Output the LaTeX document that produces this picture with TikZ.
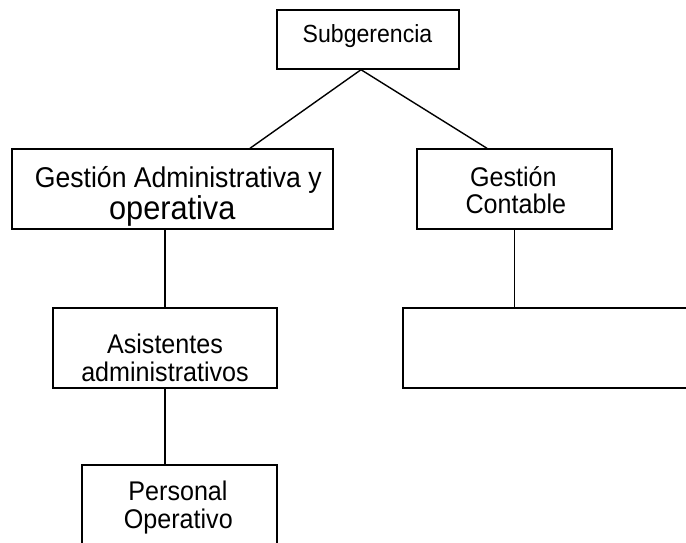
\documentclass[tikz,border=0pt]{standalone}
\usepackage{fontspec}
\setmainfont{Liberation Sans}
\newfontfamily\arialx[FakeStretch=0.93]{Liberation Sans}
\begin{document}
\begin{tikzpicture}[x=1pt,y=-1pt,
  box/.style={draw, line width=1.4pt, inner sep=0pt, rectangle},
  conn/.style={draw, line width=1.4pt},
  txt/.style={inner sep=0pt, anchor=base, font=\arialx\fontsize{27}{27}\selectfont},
  txtsmall/.style={txt, font=\arialx\fontsize{24.8}{24.8}\selectfont},
  txtmid/.style={txt, font=\arialx\fontsize{28.6}{28.6}\selectfont},
  txtbig/.style={txt, font=\arialx\fontsize{33}{33}\selectfont}]
\fill[white] (0,0) rectangle (686,542);
\useasboundingbox (0,0) rectangle (686,542);
% boxes
\node[box, minimum width=182pt, minimum height=59pt] (sub) at (368,39.5) {};
\node[box, minimum width=321pt, minimum height=80pt] (gadm) at (172.5,189) {};
\node[box, minimum width=195pt, minimum height=80pt] (gcont) at (514.5,189) {};
\node[box, minimum width=224pt, minimum height=80pt] (asis) at (165,348) {};
\node[box, minimum width=317pt, minimum height=80pt] (empty) at (561.5,348) {};
\node[box, minimum width=195pt, minimum height=115pt] (pers) at (179.5,522.5) {};
% texts
\node[txtsmall] (t1) at (367.5,42.5) {Subgerencia};
\node[txtmid] (t2) at (178.3,187) {Gestión Administrativa y};
\node[txtbig] (t3) at (172.3,219.5) {operativa};
\node[txt] (t4) at (513.3,186) {Gestión};
\node[txt] (t5) at (515.8,213.5) {Contable};
\node[txt] (t6) at (165,353) {Asistentes};
\node[txt] (t7) at (165,381.5) {administrativos};
\node[txt] (t8) at (178,500) {Personal};
\node[txt] (t9) at (178.3,528) {Operativo};
% connectors
\coordinate (apex) at ([xshift=-7pt]sub.south);
\draw[conn] (apex) -- ([xshift=77.5pt]gadm.north);
\draw[conn] (apex) -- ([xshift=-27.5pt]gcont.north);
\draw[conn] (gadm.south -| asis.north) -- (asis.north);
\draw[conn] (gcont.south) -- (gcont.south |- empty.north);
\draw[conn] (asis.south) -- (asis.south |- pers.north);
\end{tikzpicture}
\end{document}
